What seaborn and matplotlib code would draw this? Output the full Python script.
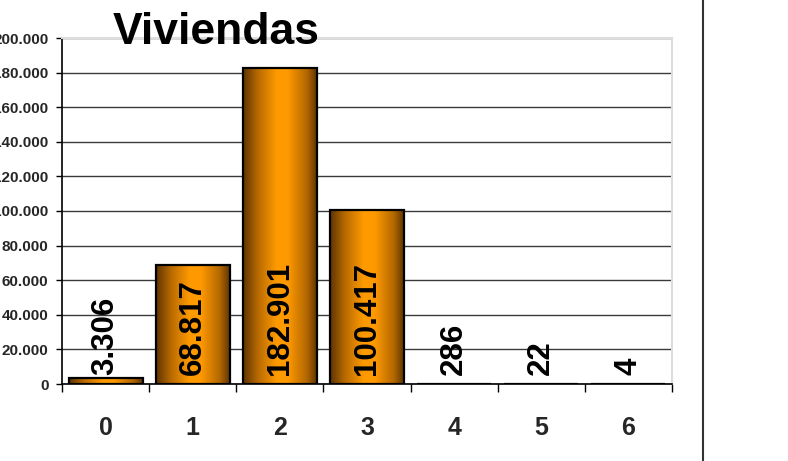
import matplotlib
matplotlib.use("Agg")
import matplotlib.pyplot as plt
import seaborn as sns
import numpy as np
import pandas as pd
from matplotlib.colors import LinearSegmentedColormap
from matplotlib.lines import Line2D

categories = ["0", "1", "2", "3", "4", "5", "6"]
values = [3306, 68817, 182901, 100417, 286, 22, 4]
value_labels = ["3.306", "68.817", "182.901", "100.417", "286", "22", "4"]
yticks = [0, 20000, 40000, 60000, 80000, 100000, 120000, 140000, 160000, 180000, 200000]
ytick_labels = ["0", "20.000", "40.000", "60.000", "80.000", "100.000",
                "120.000", "140.000", "160.000", "180.000", "200.000"]
title = "Viviendas"

sns.set_theme(style="white")
plt.rcParams['font.family'] = ['Liberation Sans', 'DejaVu Sans']

fig = plt.figure(figsize=(7.88, 4.61), dpi=100)
ax = fig.add_axes([62/788, 77/461, 610/788, 346/461])

df = pd.DataFrame({"cat": categories, "val": values})
sns.barplot(data=df, x="cat", y="val", ax=ax, width=0.85, color="#ff9900",
            edgecolor="black", linewidth=1.6, zorder=3)

ax.set_xlim(-0.5, 6.5)
ax.set_ylim(0, 200000)

# gradient fill for each bar
cmap = LinearSegmentedColormap.from_list(
    "barg", [(0, "#5e3400"), (0.2, "#b86a00"), (0.45, "#ff9a00"),
             (0.6, "#ff9900"), (0.85, "#b46800"), (1, "#5a3200")])
grad = np.linspace(0, 1, 256).reshape(1, -1)
for p in ax.patches:
    x0, y0 = p.get_x(), p.get_y()
    w, h = p.get_width(), p.get_height()
    im = ax.imshow(grad, cmap=cmap, aspect="auto",
                   extent=[x0, x0 + w, y0, y0 + h], zorder=3.5,
                   interpolation="bilinear")
    im.set_clip_path(p)
    p.set_facecolor("none")
    p.set_zorder(4)
ax.set_xlim(-0.5, 6.5)
ax.set_ylim(0, 200000)

# grid
ax.set_yticks(yticks)
ax.set_yticklabels(ytick_labels, fontsize=11, fontweight="bold")
ax.yaxis.grid(True, color="#3a3a3a", linewidth=1.0, zorder=1)
ax.set_axisbelow(True)
ax.tick_params(axis="y", which="major", left=True, length=4.3, width=1,
               color="black", pad=5.5)

ax.set_xticks(range(len(categories)))
ax.set_xticklabels(categories, fontsize=18, fontweight="bold")
ax.set_xticks(np.arange(-0.5, 7, 1), minor=True)
ax.tick_params(axis="x", which="major", length=0, pad=23)
ax.tick_params(axis="x", which="minor", bottom=True, length=6, width=1,
               color="black")
ax.set_xlabel("")
ax.set_ylabel("")

for s in ["left", "bottom"]:
    ax.spines[s].set_color("black")
    ax.spines[s].set_linewidth(1.2)
for s in ["top", "right"]:
    ax.spines[s].set_color("#dddddd")
    ax.spines[s].set_linewidth(1.5)

# value labels
for i, lab in enumerate(value_labels):
    ax.text(i, 5000, lab, rotation=90, ha="center", va="bottom",
            fontsize=22.5, fontweight="bold", color="black", zorder=6)

fig.text(216/788, 1 - 44/461, title, ha="center", va="baseline",
         fontsize=32, fontweight="bold", color="black", zorder=10)

fig.add_artist(Line2D([703/788, 703/788], [0, 1], color="#333333",
                      linewidth=1.5, transform=fig.transFigure))

fig.savefig("out.png", dpi=100)
